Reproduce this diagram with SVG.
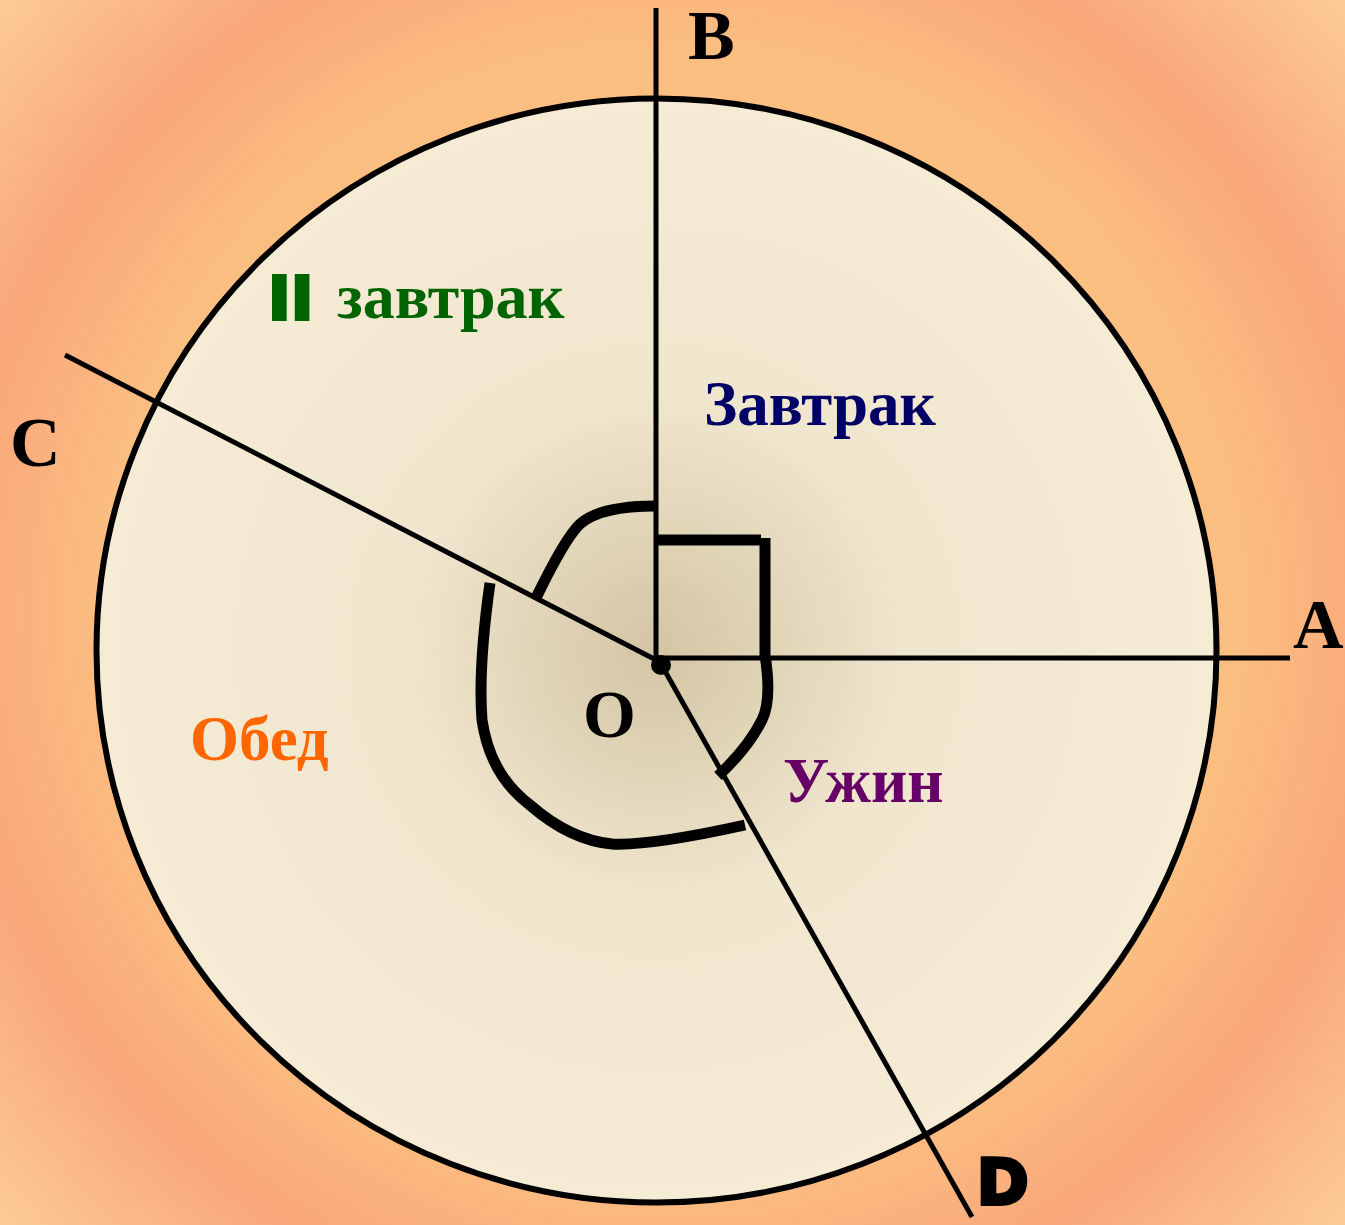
<svg xmlns="http://www.w3.org/2000/svg" width="1345" height="1225" viewBox="0 0 1345 1225">
<defs>
<radialGradient id="bg" cx="672" cy="612" r="910" gradientUnits="userSpaceOnUse">
<stop offset="0" stop-color="#FBC283"/>
<stop offset="0.62" stop-color="#FBBE81"/>
<stop offset="0.79" stop-color="#F9A77A"/>
<stop offset="1" stop-color="#FCCC95"/>
</radialGradient>
<radialGradient id="disk" cx="656" cy="650" r="560" gradientUnits="userSpaceOnUse">
<stop offset="0" stop-color="#D3C5A4"/>
<stop offset="0.45" stop-color="#F0E6CE"/>
<stop offset="1" stop-color="#F6ECD6"/>
</radialGradient>
<style>
.ln{stroke:#000;stroke-width:5;fill:none}
.arc{stroke:#000;stroke-width:11;fill:none}
.lbl{font-family:"Liberation Serif","Times New Roman",serif;font-weight:bold}
</style>
</defs>
<rect width="1345" height="1225" fill="url(#bg)"/>
<g id="disk-node">
<ellipse cx="656.5" cy="650.5" rx="560" ry="552" fill="url(#disk)" stroke="#000" stroke-width="6"/>
</g>
<g id="connectors">
<line class="ln" x1="656" y1="8" x2="656" y2="664"/>
<line class="ln" x1="656" y1="658" x2="1290" y2="658"/>
<line class="ln" x1="65" y1="355" x2="660" y2="662"/>
<line class="ln" x1="661" y1="664" x2="972" y2="1217"/>
<circle cx="661" cy="665" r="10" fill="#000"/>
<path class="arc" d="M656,540 L761,540"/>
<path class="arc" d="M765,538 L765,655 Q772,700 762,720 Q748,748 718,776"/>
<path class="arc" d="M656,506 Q600,506 580,524 Q565,538 535,600"/>
<path class="arc" d="M490,583 Q478,668 482,720 Q490,775 530,805 Q570,840 612,844 Q650,846 745,825"/>
</g>
<g id="label-B"><text class="lbl" x="688" y="59" font-size="70">B</text></g>
<g id="label-A"><text class="lbl" x="1293" y="648" font-size="70">A</text></g>
<g id="label-C"><text class="lbl" x="10" y="466" font-size="70">C</text></g>
<g id="label-O"><text class="lbl" x="583" y="737" font-size="68">O</text></g>
<g id="label-D"><text x="977" y="1204" font-size="62" font-family="'DejaVu Sans','Liberation Sans',sans-serif" font-weight="bold" stroke="#000" stroke-width="4">D</text></g>
<g id="label-zavtrak2"><text class="lbl" y="318" font-size="64" fill="#006400"><tspan x="271" font-family="'Liberation Sans',Arial,sans-serif" font-size="60" letter-spacing="6" stroke="#006400" stroke-width="6">II</tspan><tspan x="337">завтрак</tspan></text></g>
<g id="label-zavtrak"><text class="lbl" x="704" y="425" font-size="63" fill="#000066">Завтрак</text></g>
<g id="label-obed"><text class="lbl" x="190" y="760" font-size="63" fill="#FF6600">Обед</text></g>
<g id="label-uzhin"><text class="lbl" x="783" y="802" font-size="63" fill="#660066">Ужин</text></g>
</svg>
